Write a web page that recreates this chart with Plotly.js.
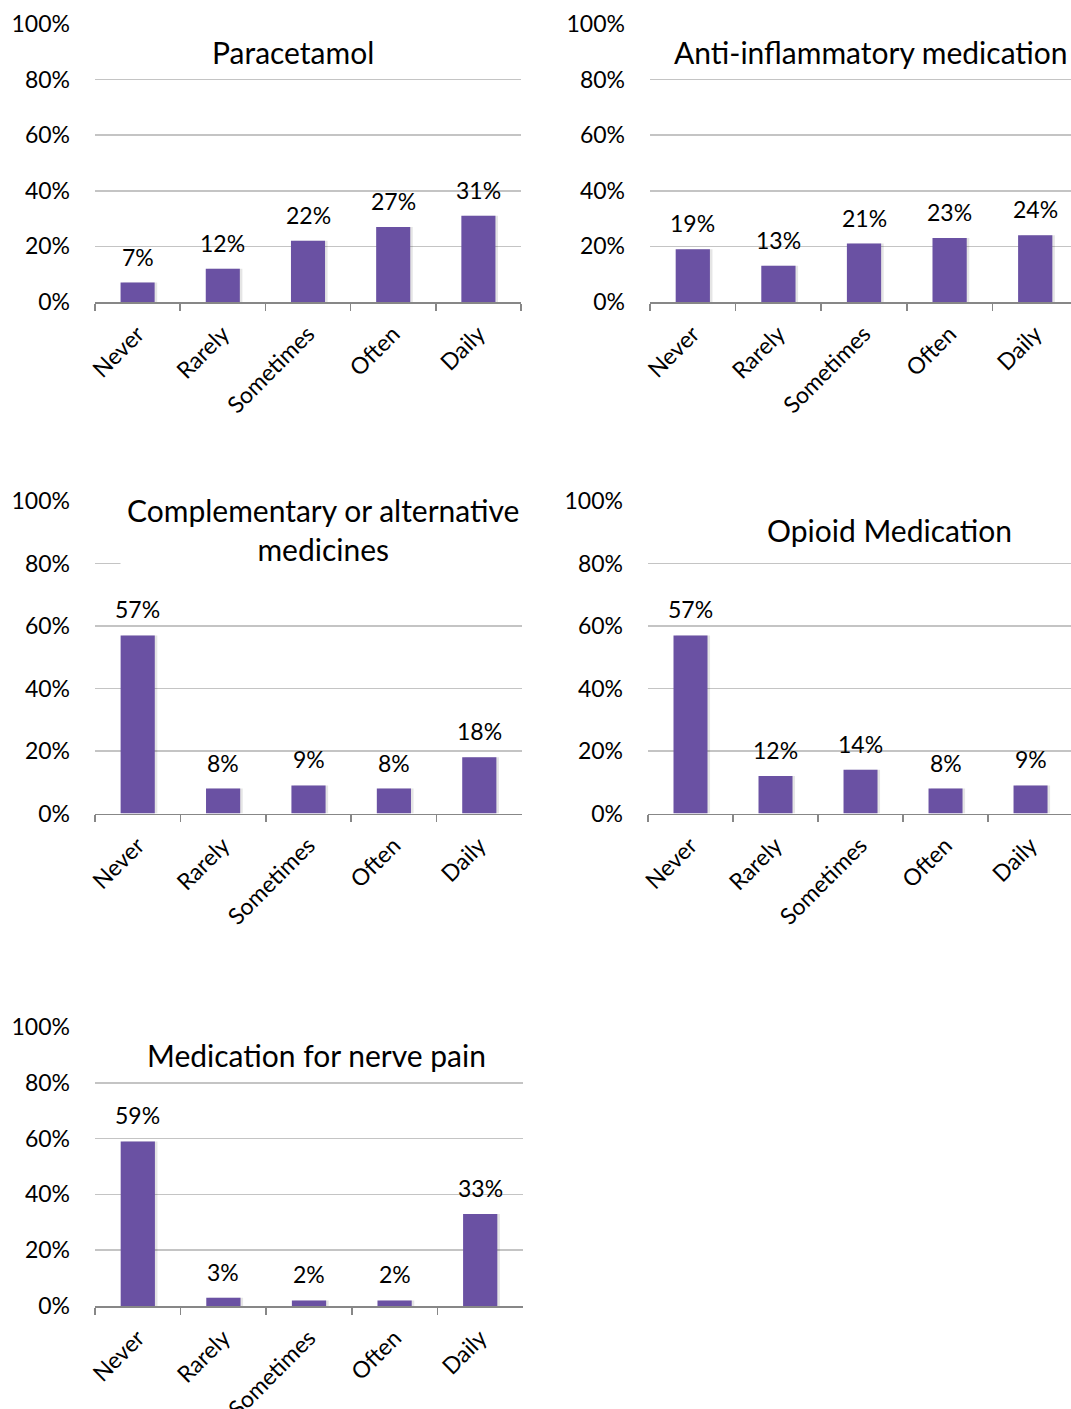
<!DOCTYPE html>
<html>
<head>
<meta charset="utf-8">
<script src="https://cdn.plot.ly/plotly-3.0.1.min.js"></script>
<style>html,body{margin:0;padding:0;background:#fff;}#chart{width:1071px;height:1409px;}</style>
</head>
<body>
<div id="chart"></div>
<script>
// ---- data ----
const categories = ['Never', 'Rarely', 'Sometimes', 'Often', 'Daily'];
const paracetamol = [7, 12, 22, 27, 31];
const antiInflammatory = [19, 13, 21, 23, 24];
const complementary = [57, 8, 9, 8, 18];
const opioid = [57, 12, 14, 8, 9];
const nervePain = [59, 3, 2, 2, 33];
const panelTitles = [
  'Paracetamol',
  'Anti-inflammatory medication',
  'Complementary or alternative<br>medicines',
  'Opioid Medication',
  'Medication for nerve pain'
];
const yTickVals = [0, 20, 40, 60, 80, 100];
const yTickText = ['0%', '20%', '40%', '60%', '80%', '100%'];

// ---- layout helpers ----
const W = 1071, H = 1409;
const FONT = 'Lato, Carlito, Calibri, "DejaVu Sans", sans-serif';
const BAR = '#6a51a3';
const series = [paracetamol, antiInflammatory, complementary, opioid, nervePain];

// pixel geometry of each panel: [left, right, top(100%), bottom(0%)], xmax
const panels = [
  {l: 95,  r: 521,  t: 24,  b: 302, xmax: 4.5},
  {l: 650, r: 1071, t: 24,  b: 302, xmax: 4.418},
  {l: 95,  r: 522,  t: 501, b: 813.5, xmax: 4.5},
  {l: 648, r: 1071, t: 501, b: 813.5, xmax: 4.476},
  {l: 95,  r: 523,  t: 1027, b: 1306, xmax: 4.5}
];
const titlePos = [
  {x: 293, y: 52},
  {x: 871, y: 52},
  {x: 323, y: 529},
  {x: 889, y: 530},
  {x: 316, y: 1055}
];

const traces = [];
const layout = {
  width: W, height: H,
  margin: {l: 0, r: 0, t: 0, b: 0},
  paper_bgcolor: '#fff', plot_bgcolor: '#fff',
  showlegend: false,
  barmode: 'overlay',
  font: {family: FONT, size: 23, color: '#000'},
  annotations: []
};

series.forEach((vals, i) => {
  const n = i === 0 ? '' : String(i + 1);
  const xa = 'x' + n, ya = 'y' + n;
  const p = panels[i];
  // shadow
  traces.push({
    type: 'bar', x: categories, y: vals, xaxis: xa, yaxis: ya,
    width: 0.4, offset: -0.17,
    marker: {color: 'rgba(0,0,0,0.10)', line: {width: 0}},
    hoverinfo: 'skip'
  });
  traces.push({
    type: 'bar', x: categories, y: vals, xaxis: xa, yaxis: ya,
    width: 0.4, offset: -0.2,
    marker: {color: BAR, line: {width: 0}}
  });
  layout['xaxis' + n] = {
    domain: [p.l / W, p.r / W],
    anchor: ya,
    type: 'category',
    range: [-0.5, p.xmax],
    showgrid: false,
    showline: true, linecolor: '#878787', linewidth: 1.5,
    ticks: 'outside', tickson: 'boundaries', ticklen: 7, tickwidth: 1.5, tickcolor: '#878787',
    tickangle: -45, ticklabelstandoff: 8,
    tickfont: {family: FONT, size: 23, color: '#000'},
    zeroline: false, fixedrange: true
  };
  layout['yaxis' + n] = {
    domain: [(H - p.b) / H, (H - p.t) / H],
    anchor: xa,
    range: [0, 100],
    tickvals: yTickVals, ticktext: yTickText,
    showgrid: true, gridcolor: '#c4c4c4', gridwidth: 1.5,
    showline: false, zeroline: false,
    ticks: '', ticklabelstandoff: 24,
    tickfont: {family: FONT, size: 23, color: '#000'},
    fixedrange: true
  };
  // data labels
  vals.forEach((v, j) => {
    layout.annotations.push({
      xref: xa, yref: ya, x: categories[j], y: v,
      text: v + '%', showarrow: false,
      xanchor: 'center', yanchor: 'bottom', yshift: 10,
      font: {family: FONT, size: 23, color: '#000'}
    });
  });
  // panel title
  layout.annotations.push({
    xref: 'paper', yref: 'paper',
    x: titlePos[i].x / W, y: (H - titlePos[i].y) / H,
    xanchor: 'center', yanchor: 'middle',
    text: panelTitles[i], showarrow: false,
    bgcolor: i === 2 ? '#fff' : 'rgba(0,0,0,0)',
    borderpad: i === 2 ? 6 : 0,
    font: {family: FONT, size: 30, color: '#000'}
  });
});

Plotly.newPlot('chart', traces, layout, {staticPlot: true, displayModeBar: false});
</script>
</body>
</html>
